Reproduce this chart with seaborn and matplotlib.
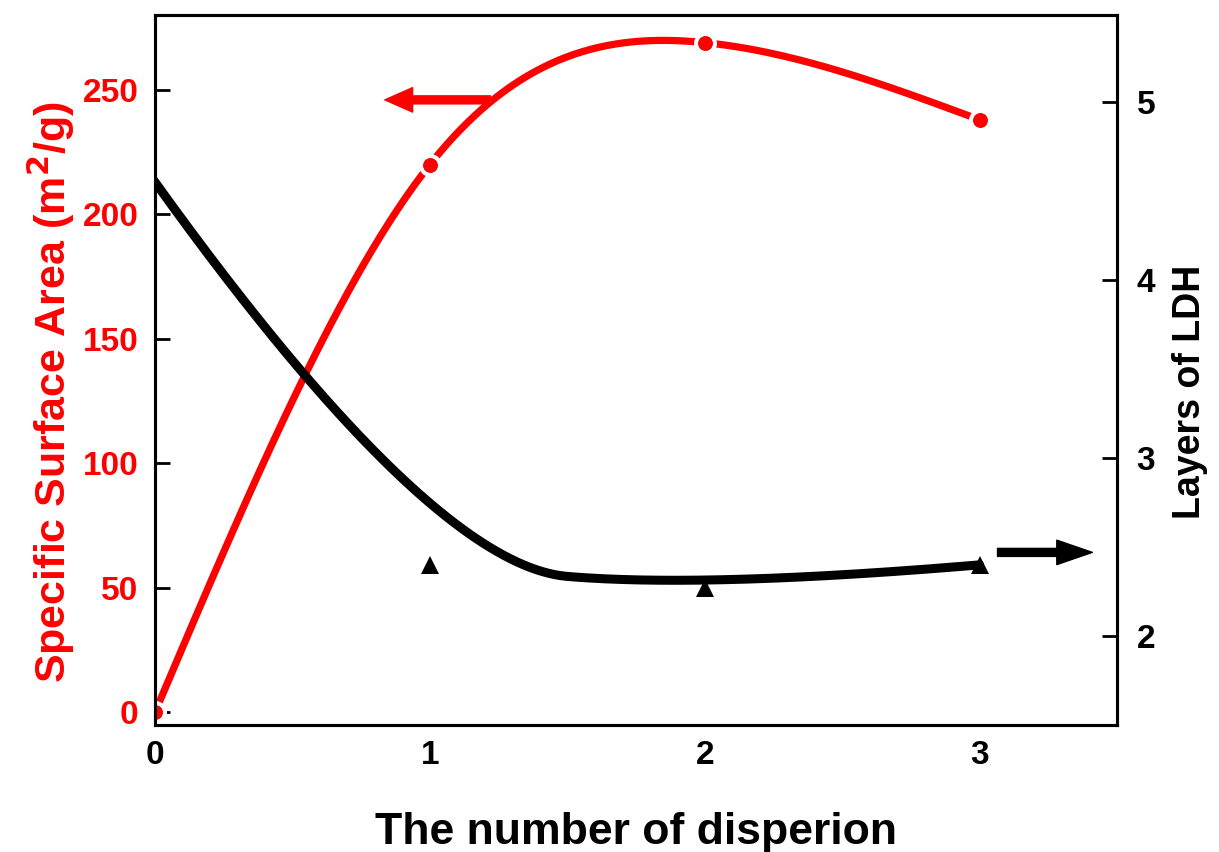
import numpy as np
import pandas as pd
import matplotlib
matplotlib.use("Agg")
import matplotlib.pyplot as plt
import seaborn as sns

# Data
dispersion = [0, 1, 2, 3]
surface_area = [0, 220, 269, 238]        # m^2/g, left axis
ldh_layers = [4.55, 2.40, 2.27, 2.40]    # right axis

RED = "#ff0000"
BLACK = "#000000"


def natural_cubic_spline(x, y, n=300):
    x = np.asarray(x, float)
    y = np.asarray(y, float)
    h = np.diff(x)
    k = len(x)
    A = np.zeros((k, k))
    b = np.zeros(k)
    A[0, 0] = A[-1, -1] = 1.0
    for i in range(1, k - 1):
        A[i, i - 1] = h[i - 1]
        A[i, i] = 2 * (h[i - 1] + h[i])
        A[i, i + 1] = h[i]
        b[i] = 6 * ((y[i + 1] - y[i]) / h[i] - (y[i] - y[i - 1]) / h[i - 1])
    M = np.linalg.solve(A, b)
    xs = np.linspace(x[0], x[-1], n)
    ys = np.empty_like(xs)
    for j, xv in enumerate(xs):
        i = min(np.searchsorted(x, xv, side="right") - 1, k - 2)
        a, c = x[i + 1] - xv, xv - x[i]
        ys[j] = (M[i] * a**3 + M[i + 1] * c**3) / (6 * h[i]) \
            + (y[i] / h[i] - M[i] * h[i] / 6) * a \
            + (y[i + 1] / h[i] - M[i + 1] * h[i] / 6) * c
    return xs, ys


def quadratic_bspline(x, y, n=300):
    # clamped quadratic B-spline using the points as control polygon
    P = np.column_stack([x, y]).astype(float)
    mids = [(P[i] + P[i + 1]) / 2 for i in range(1, len(P) - 2)]
    starts = [P[0]] + mids
    ends = mids + [P[-1]]
    ctrls = list(P[1:-1])
    out = []
    t = np.linspace(0, 1, n // len(ctrls))[:, None]
    for s, c, e in zip(starts, ctrls, ends):
        out.append((1 - t) ** 2 * s + 2 * t * (1 - t) * c + t ** 2 * e)
    out = np.vstack(out)
    return out[:, 0], out[:, 1]


sns.set_style("white")
plt.rcParams["font.family"] = ["Liberation Sans", "DejaVu Sans"]
plt.rcParams["font.weight"] = "bold"
plt.rcParams["text.color"] = BLACK
plt.rcParams["axes.labelcolor"] = BLACK

fig = plt.figure(figsize=(12.19, 8.52), dpi=100)
ax = fig.add_axes([0.1272, 0.149, 0.7892, 0.8334])
ax2 = ax.twinx()

# Specific surface area: interpolating spline + circle markers
sx, sy = natural_cubic_spline(dispersion, surface_area)
curve_red = pd.DataFrame({"x": sx, "y": sy})
sns.lineplot(data=curve_red, x="x", y="y", ax=ax, color=RED, lw=5.2,
             sort=False, estimator=None, zorder=3)
pts_red = pd.DataFrame({"x": dispersion, "y": surface_area})
ax.plot(pts_red["x"], pts_red["y"], "o", ms=13.5, color=RED,
        mec="white", mew=3.0, zorder=4)
ax.plot(pts_red["x"], pts_red["y"], "o", ms=10.5, color=RED, mew=0, zorder=5)

# Layers of LDH: B-spline + triangle markers
bx, by = quadratic_bspline(dispersion, ldh_layers)
curve_blk = pd.DataFrame({"x": bx, "y": by})
sns.lineplot(data=curve_blk, x="x", y="y", ax=ax2, color=BLACK, lw=6.5,
             sort=False, estimator=None, zorder=3)
ax2.plot(dispersion, ldh_layers, "^", ms=13, color=BLACK, mew=0, zorder=4)

# Direction arrows
ax.annotate("", xy=(0.836, 246), xytext=(1.22, 246),
            arrowprops=dict(arrowstyle="simple,head_length=1.25,head_width=1.1,tail_width=0.36",
                            mutation_scale=16, color=RED, shrinkA=0, shrinkB=0), zorder=2)
ax2.annotate("", xy=(3.41, 2.47), xytext=(3.065, 2.47),
             arrowprops=dict(arrowstyle="simple,head_length=1.6,head_width=1.1,tail_width=0.36",
                             mutation_scale=16, color=BLACK, shrinkA=0, shrinkB=0), zorder=2)

ax.set_xlim(0, 3.5)
ax.set_ylim(-5.2, 280.1)
ax2.set_ylim(1.5, 5.489)

ax.set_xticks([0, 1, 2, 3])
ax.set_yticks([0, 50, 100, 150, 200, 250])
ax2.set_yticks([2, 3, 4, 5])

ax.set_xlabel("The number of disperion", fontsize=32, fontweight="bold",
              color=BLACK, labelpad=29)
ax.set_ylabel("Specific Surface Area (m$^\\mathbf{2}$/g)", fontsize=31, fontweight="bold",
              color=RED)
ax2.set_ylabel("Layers of LDH", fontsize=27, fontweight="bold", color=BLACK)
ax.yaxis.set_label_coords(-0.081, 0.469)
ax2.yaxis.set_label_coords(1.057, 0.469)

ax.tick_params(axis="x", direction="inout", length=18, width=2, labelsize=24,
               pad=2, colors=BLACK)
ax.tick_params(axis="y", direction="in", length=11, width=2, labelsize=24,
               labelcolor=RED, color=BLACK, pad=12)
ax2.tick_params(axis="y", direction="in", length=11, width=2, labelsize=24,
                labelcolor=BLACK, color=BLACK, pad=14)
for a in (ax, ax2):
    for lab in a.get_xticklabels() + a.get_yticklabels():
        lab.set_fontweight("bold")
    for sp in a.spines.values():
        sp.set_linewidth(2.2)
        sp.set_color(BLACK)
        sp.set_visible(True)
ax.set_facecolor("white")

fig.savefig("out.png", dpi=100, facecolor="white")
